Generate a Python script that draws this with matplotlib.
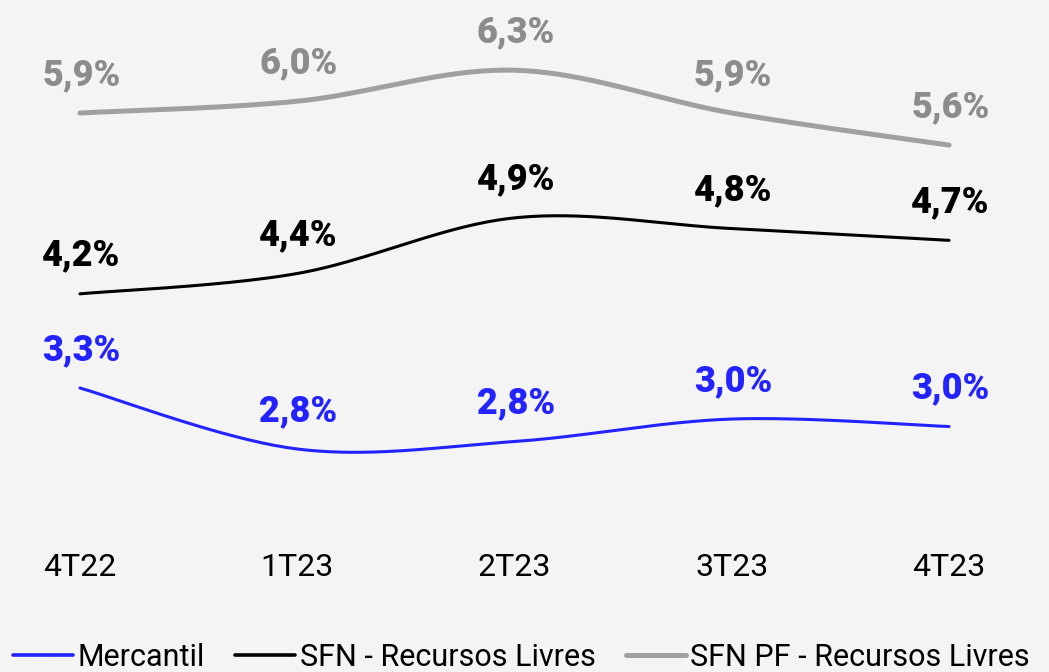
import numpy as np
import matplotlib.pyplot as plt
from matplotlib.transforms import blended_transform_factory

# data
QUARTERS = ["4T22", "1T23", "2T23", "3T23", "4T23"]
MERCANTIL = [3.33, 2.76, 2.83, 3.04, 2.97]
SFN_LIVRES = [4.21, 4.40, 4.92, 4.82, 4.71]
SFN_PF_LIVRES = [5.90, 6.01, 6.30, 5.90, 5.60]

SERIES = [
    ("Mercantil", MERCANTIL, "#2323ff", "#2323ff", 2.2),
    ("SFN - Recursos Livres", SFN_LIVRES, "#000000", "#000000", 2.2),
    ("SFN PF - Recursos Livres", SFN_PF_LIVRES, "#a0a0a0", "#8c8c8c", 3.6),
]

BG = "#f4f4f4"
FONT = "Roboto"


def smooth(x, y, n=40):
    """Catmull-Rom style bezier smoothing (like spreadsheet 'smoothed line')."""
    x = np.asarray(x, float)
    y = np.asarray(y, float)
    px = np.r_[x[0], x, x[-1]]
    py = np.r_[y[0], y, y[-1]]
    xs, ys = [], []
    t = np.linspace(0, 1, n)
    for i in range(1, len(px) - 2):
        p0 = np.array([px[i], py[i]])
        p3 = np.array([px[i + 1], py[i + 1]])
        p1 = p0 + (np.array([px[i + 1], py[i + 1]]) - np.array([px[i - 1], py[i - 1]])) / 6
        p2 = p3 - (np.array([px[i + 2], py[i + 2]]) - np.array([px[i], py[i]])) / 6
        b = ((1 - t) ** 3)[:, None] * p0 + (3 * (1 - t) ** 2 * t)[:, None] * p1 \
            + (3 * (1 - t) * t ** 2)[:, None] * p2 + (t ** 3)[:, None] * p3
        xs.append(b[:, 0])
        ys.append(b[:, 1])
    return np.concatenate(xs), np.concatenate(ys)


def main() -> None:
    fig = plt.figure(figsize=(10.49, 6.72), dpi=100, facecolor=BG)
    ax = fig.add_axes([0, 0, 1, 1])
    ax.set_facecolor(BG)
    for s in ax.spines.values():
        s.set_visible(False)
    ax.set_xticks([])
    ax.set_yticks([])

    xs = np.arange(len(QUARTERS))
    handles = []
    for name, vals, color, lcolor, lw in SERIES:
        sx, sy = smooth(xs, vals)
        h, = ax.plot(sx, sy, color=color, lw=lw, solid_capstyle="round", label=name)
        handles.append(h)
        for x, v in zip(xs, vals):
            ax.annotate(f"{v:.1f}%".replace(".", ","), (x, v), xytext=(1, 27.5),
                        textcoords="offset points", ha="center", va="center",
                        fontsize=26, fontweight="heavy", color=lcolor, family=FONT)

    ax.set_xlim(-0.368, 4.46)
    ax.set_ylim(0.676, 6.956)

    trans = blended_transform_factory(ax.transData, ax.transAxes)
    for x, q in zip(xs, QUARTERS):
        ax.text(x, 1 - 568 / 672, q, transform=trans, ha="center", va="center",
                fontsize=23, color="#000000", family=FONT)

    leg = fig.legend(handles=handles, loc="center", bbox_to_anchor=(0.497, 1 - 657 / 672),
                     ncol=3, frameon=False, handlelength=1.96, handletextpad=0.15,
                     columnspacing=1.0, prop={"family": FONT, "size": 22})
    for lh in leg.legend_handles:
        lh.set_linewidth(3.6 if lh.get_color() == "#a0a0a0" else 2.6)

    fig.savefig("out.png", dpi=100, facecolor=BG)
    plt.close(fig)


if __name__ == "__main__":
    main()
